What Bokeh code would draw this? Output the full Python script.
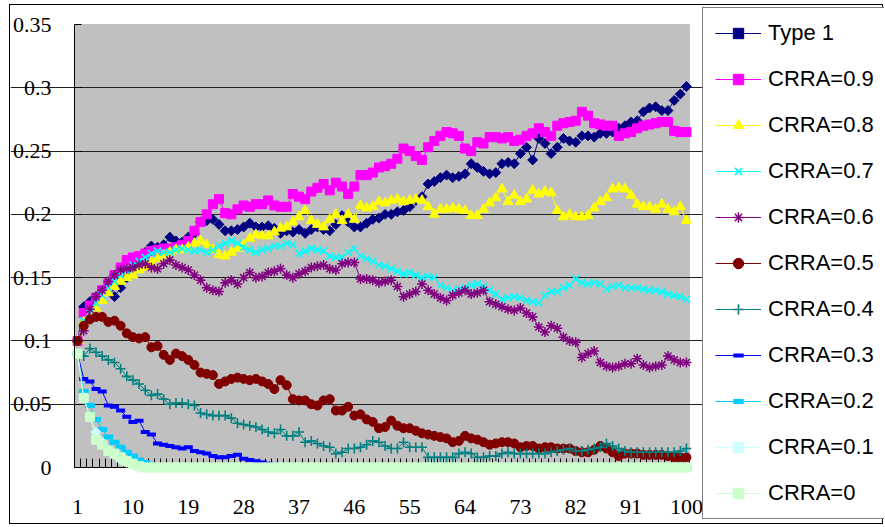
import numpy as np
from bokeh.plotting import figure
from bokeh.models import (Range1d, FixedTicker, NumeralTickFormatter, BoxAnnotation,
                          Legend, LegendItem, LinearAxis)
from bokeh.embed import file_html
from bokeh.resources import INLINE

periods = list(range(1, 101))
x_tick_labels = [1, 10, 19, 28, 37, 46, 55, 64, 73, 82, 91, 100]
y_ticks = [0, 0.05, 0.1, 0.15, 0.2, 0.25, 0.3, 0.35]
grid_ticks = [0.05, 0.1, 0.15, 0.2, 0.25, 0.3]

type1 = [0.100, 0.127, 0.131, 0.135, 0.138, 0.140, 0.135, 0.142, 0.150, 0.158,
         0.165, 0.170, 0.175, 0.174, 0.176, 0.182, 0.179, 0.178, 0.182, 0.185,
         0.194, 0.195, 0.196, 0.192, 0.187, 0.187, 0.188, 0.190, 0.193, 0.190,
         0.190, 0.191, 0.189, 0.185, 0.187, 0.186, 0.188, 0.185, 0.188, 0.190,
         0.188, 0.187, 0.192, 0.199, 0.194, 0.190, 0.190, 0.193, 0.196, 0.197,
         0.200, 0.200, 0.202, 0.203, 0.206, 0.211, 0.214, 0.224, 0.226, 0.229,
         0.231, 0.229, 0.230, 0.232, 0.240, 0.237, 0.234, 0.232, 0.233, 0.240,
         0.241, 0.240, 0.248, 0.253, 0.243, 0.260, 0.256, 0.248, 0.253, 0.260,
         0.258, 0.257, 0.262, 0.262, 0.261, 0.264, 0.264, 0.265, 0.268, 0.270,
         0.273, 0.274, 0.281, 0.284, 0.285, 0.282, 0.282, 0.290, 0.295, 0.301]

crra09 = [0.100, 0.122, 0.128, 0.134, 0.140, 0.145, 0.152, 0.158, 0.164, 0.166,
          0.167, 0.169, 0.171, 0.172, 0.173, 0.173, 0.174, 0.176, 0.179, 0.187,
          0.194, 0.200, 0.208, 0.212, 0.201, 0.200, 0.204, 0.207, 0.206, 0.208,
          0.208, 0.211, 0.207, 0.206, 0.206, 0.216, 0.214, 0.212, 0.218, 0.221,
          0.224, 0.219, 0.225, 0.222, 0.216, 0.222, 0.231, 0.231, 0.233, 0.237,
          0.238, 0.240, 0.244, 0.252, 0.250, 0.246, 0.243, 0.253, 0.258, 0.262,
          0.265, 0.264, 0.262, 0.252, 0.250, 0.257, 0.256, 0.261, 0.261, 0.260,
          0.261, 0.258, 0.259, 0.262, 0.264, 0.268, 0.265, 0.262, 0.270, 0.272,
          0.273, 0.274, 0.281, 0.278, 0.272, 0.271, 0.270, 0.270, 0.262, 0.264,
          0.265, 0.268, 0.270, 0.271, 0.272, 0.273, 0.273, 0.266, 0.265, 0.265]

crra08 = [0.100, 0.115, 0.120, 0.126, 0.132, 0.138, 0.143, 0.147, 0.150, 0.152,
          0.156, 0.158, 0.162, 0.165, 0.168, 0.170, 0.172, 0.172, 0.174, 0.177,
          0.179, 0.176, 0.172, 0.168, 0.167, 0.170, 0.173, 0.176, 0.181, 0.184,
          0.183, 0.183, 0.186, 0.189, 0.190, 0.194, 0.198, 0.203, 0.195, 0.192,
          0.190, 0.196, 0.200, 0.195, 0.200, 0.196, 0.207, 0.205, 0.206, 0.210,
          0.209, 0.211, 0.212, 0.210, 0.211, 0.212, 0.211, 0.206, 0.200, 0.204,
          0.204, 0.205, 0.204, 0.203, 0.199, 0.199, 0.204, 0.209, 0.213, 0.220,
          0.210, 0.215, 0.210, 0.212, 0.219, 0.216, 0.218, 0.217, 0.203, 0.198,
          0.200, 0.198, 0.198, 0.199, 0.205, 0.210, 0.213, 0.220, 0.221, 0.220,
          0.215, 0.208, 0.206, 0.206, 0.204, 0.208, 0.204, 0.202, 0.206, 0.195]

crra07 = [0.100, 0.116, 0.122, 0.130, 0.136, 0.142, 0.147, 0.152, 0.156, 0.160,
          0.163, 0.166, 0.169, 0.171, 0.170, 0.170, 0.172, 0.173, 0.172, 0.171,
          0.172, 0.170, 0.172, 0.175, 0.177, 0.179, 0.177, 0.174, 0.172, 0.170,
          0.172, 0.173, 0.175, 0.175, 0.177, 0.176, 0.169, 0.171, 0.173, 0.172,
          0.171, 0.167, 0.166, 0.166, 0.170, 0.173, 0.167, 0.165, 0.163, 0.160,
          0.159, 0.157, 0.155, 0.153, 0.154, 0.152, 0.150, 0.151, 0.150, 0.144,
          0.142, 0.140, 0.141, 0.142, 0.144, 0.145, 0.143, 0.140, 0.137, 0.133,
          0.134, 0.135, 0.134, 0.132, 0.131, 0.130, 0.136, 0.139, 0.139, 0.142,
          0.144, 0.149, 0.146, 0.145, 0.146, 0.145, 0.141, 0.143, 0.144, 0.142,
          0.142, 0.142, 0.141, 0.140, 0.140, 0.139, 0.137, 0.136, 0.135, 0.133]

crra06 = [0.100, 0.108, 0.125, 0.135, 0.140, 0.147, 0.152, 0.156, 0.157, 0.158,
          0.160, 0.161, 0.158, 0.157, 0.161, 0.164, 0.160, 0.158, 0.156, 0.152,
          0.148, 0.142, 0.140, 0.139, 0.146, 0.148, 0.145, 0.150, 0.154, 0.150,
          0.151, 0.154, 0.155, 0.157, 0.152, 0.150, 0.153, 0.155, 0.158, 0.159,
          0.160, 0.157, 0.156, 0.161, 0.162, 0.162, 0.149, 0.149, 0.148, 0.146,
          0.147, 0.148, 0.143, 0.135, 0.137, 0.139, 0.145, 0.140, 0.137, 0.134,
          0.132, 0.136, 0.138, 0.140, 0.137, 0.138, 0.140, 0.131, 0.129, 0.127,
          0.125, 0.124, 0.126, 0.122, 0.119, 0.111, 0.107, 0.112, 0.110, 0.103,
          0.100, 0.099, 0.087, 0.090, 0.092, 0.083, 0.080, 0.079, 0.080, 0.082,
          0.082, 0.086, 0.081, 0.079, 0.080, 0.081, 0.088, 0.085, 0.083, 0.083]

crra05 = [0.100, 0.112, 0.117, 0.119, 0.119, 0.115, 0.116, 0.112, 0.106, 0.103,
          0.102, 0.103, 0.095, 0.096, 0.089, 0.085, 0.090, 0.088, 0.085, 0.081,
          0.075, 0.074, 0.073, 0.066, 0.068, 0.070, 0.071, 0.070, 0.069, 0.070,
          0.068, 0.066, 0.062, 0.069, 0.065, 0.054, 0.053, 0.053, 0.050, 0.049,
          0.053, 0.054, 0.045, 0.045, 0.048, 0.041, 0.042, 0.038, 0.036, 0.031,
          0.032, 0.037, 0.033, 0.031, 0.031, 0.029, 0.027, 0.026, 0.025, 0.024,
          0.023, 0.020, 0.021, 0.025, 0.023, 0.022, 0.020, 0.018, 0.019, 0.020,
          0.020, 0.019, 0.016, 0.017, 0.017, 0.015, 0.016, 0.016, 0.015, 0.015,
          0.015, 0.013, 0.012, 0.012, 0.014, 0.017, 0.015, 0.012, 0.009, 0.011,
          0.011, 0.011, 0.010, 0.010, 0.010, 0.010, 0.009, 0.008, 0.008, 0.008]

crra04 = [0.090, 0.088, 0.094, 0.091, 0.088, 0.085, 0.083, 0.078, 0.072, 0.069,
          0.066, 0.061, 0.057, 0.058, 0.054, 0.050, 0.051, 0.051, 0.050, 0.049,
          0.043, 0.042, 0.041, 0.041, 0.041, 0.039, 0.035, 0.034, 0.033, 0.032,
          0.030, 0.028, 0.027, 0.030, 0.025, 0.025, 0.028, 0.020, 0.021, 0.019,
          0.017, 0.016, 0.011, 0.012, 0.015, 0.015, 0.016, 0.018, 0.021, 0.020,
          0.017, 0.015, 0.015, 0.020, 0.016, 0.016, 0.016, 0.008, 0.008, 0.008,
          0.008, 0.008, 0.011, 0.012, 0.011, 0.008, 0.008, 0.009, 0.009, 0.011,
          0.012, 0.011, 0.011, 0.011, 0.011, 0.011, 0.011, 0.012, 0.013, 0.014,
          0.015, 0.013, 0.013, 0.014, 0.015, 0.016, 0.019, 0.017, 0.015, 0.013,
          0.012, 0.012, 0.012, 0.012, 0.012, 0.012, 0.012, 0.012, 0.013, 0.015]

crra03 = [0.090, 0.070, 0.068, 0.062, 0.060, 0.049, 0.048, 0.045, 0.040, 0.036,
          0.037, 0.028, 0.026, 0.019, 0.018, 0.017, 0.016, 0.015, 0.016, 0.013,
          0.012, 0.011, 0.009, 0.008, 0.008, 0.009, 0.010, 0.007, 0.006, 0.005,
          0.004, 0.003, 0.002, 0.002, 0.001, 0.001, 0, 0, 0, 0,
          0, 0, 0, 0, 0, 0, 0, 0, 0, 0,
          0, 0, 0, 0, 0, 0, 0, 0, 0, 0,
          0, 0, 0, 0, 0, 0, 0, 0, 0, 0,
          0, 0, 0, 0, 0, 0, 0, 0, 0, 0,
          0, 0, 0, 0, 0, 0, 0, 0, 0, 0,
          0, 0, 0, 0, 0, 0, 0, 0, 0, 0]

crra02 = [0.090, 0.060, 0.049, 0.038, 0.030, 0.024, 0.020, 0.016, 0.012, 0.009,
          0.006, 0.004, 0.002, 0.001, 0, 0, 0, 0, 0, 0,
          0, 0, 0, 0, 0, 0, 0, 0, 0, 0,
          0, 0, 0, 0, 0, 0, 0, 0, 0, 0,
          0, 0, 0, 0, 0, 0, 0, 0, 0, 0,
          0, 0, 0, 0, 0, 0, 0, 0, 0, 0,
          0, 0, 0, 0, 0, 0, 0, 0, 0, 0,
          0, 0, 0, 0, 0, 0, 0, 0, 0, 0,
          0, 0, 0, 0, 0, 0, 0, 0, 0, 0,
          0, 0, 0, 0, 0, 0, 0, 0, 0, 0]

crra01 = [0.090, 0.055, 0.040, 0.028, 0.020, 0.014, 0.010, 0.006, 0.004, 0.002,
          0, 0, 0, 0, 0, 0, 0, 0, 0, 0,
          0, 0, 0, 0, 0, 0, 0, 0, 0, 0,
          0, 0, 0, 0, 0, 0, 0, 0, 0, 0,
          0, 0, 0, 0, 0, 0, 0, 0, 0, 0,
          0, 0, 0, 0, 0, 0, 0, 0, 0, 0,
          0, 0, 0, 0, 0, 0, 0, 0, 0, 0,
          0, 0, 0, 0, 0, 0, 0, 0, 0, 0,
          0, 0, 0, 0, 0, 0, 0, 0, 0, 0,
          0, 0, 0, 0, 0, 0, 0, 0, 0, 0]

crra00 = [0.090, 0.055, 0.040, 0.022, 0.018, 0.013, 0.011, 0.008, 0.005, 0.003,
          0.001, 0, 0, 0, 0, 0, 0, 0, 0, 0,
          0, 0, 0, 0, 0, 0, 0, 0, 0, 0,
          0, 0, 0, 0, 0, 0, 0, 0, 0, 0,
          0, 0, 0, 0, 0, 0, 0, 0, 0, 0,
          0, 0, 0, 0, 0, 0, 0, 0, 0, 0,
          0, 0, 0, 0, 0, 0, 0, 0, 0, 0,
          0, 0, 0, 0, 0, 0, 0, 0, 0, 0,
          0, 0, 0, 0, 0, 0, 0, 0, 0, 0,
          0, 0, 0, 0, 0, 0, 0, 0, 0, 0]

series_labels = ["Type 1", "CRRA=0.9", "CRRA=0.8", "CRRA=0.7", "CRRA=0.6", "CRRA=0.5",
                 "CRRA=0.4", "CRRA=0.3", "CRRA=0.2", "CRRA=0.1", "CRRA=0"]
series_values = [type1, crra09, crra08, crra07, crra06, crra05,
                 crra04, crra03, crra02, crra01, crra00]

Q = np.pi / 4
styles = [
    ("#000080", dict(marker="square", size=7, angle=Q, fill=True, lw=1)),
    ("#FF00FF", dict(marker="square", size=9, angle=0, fill=True, lw=1)),
    ("#FFFF00", dict(marker="triangle", size=10, angle=0, fill=True, lw=1)),
    ("#00FFFF", dict(marker="x", size=10, angle=0, fill=False, lw=1.6)),
    ("#800080", dict(marker="asterisk", size=10, angle=0, fill=False, lw=1.5)),
    ("#800000", dict(marker="circle", size=9, angle=0, fill=True, lw=1)),
    ("#008080", dict(marker="cross", size=10, angle=0, fill=False, lw=1.6)),
    ("#0000FF", dict(marker="dash", size=9, angle=0, fill=False, lw=4)),
    ("#00CCFF", dict(marker="dash", size=10, angle=0, fill=False, lw=5)),
    ("#CCFFFF", dict(marker="square", size=7, angle=Q, fill=True, lw=1)),
    ("#CCFFCC", dict(marker="square", size=9, angle=0, fill=True, lw=1)),
]

# Canvas 874x520 sits at page (10, 5) inside a 1px border.  The frame fills the
# whole canvas; the plot area (periods 0.5..100.5, values 0..0.35) spans page
# x 74..689 and y 467..24, i.e. 6.15 px per period and 443 px per 0.35.
CW, CH = 874, 520
PX_PER_X = 615 / 100.0
PX_PER_Y = 443 / 0.35
AREA_LEFT, AREA_TOP, AREA_ZERO = 64, 19, 462  # canvas pixels
x_start = 0.5 - AREA_LEFT / PX_PER_X
x_end = x_start + CW / PX_PER_X
y_end = 0.35 + AREA_TOP / PX_PER_Y
y_start = -(CH - AREA_ZERO) / PX_PER_Y

p = figure(width=CW, height=CH, output_backend="svg", toolbar_location=None,
           x_range=Range1d(x_start, x_end), y_range=Range1d(y_start, y_end),
           min_border=0, margin=(4, 0, 0, 9), styles={"border": "1px solid black"})
p.background_fill_color = "white"
p.border_fill_color = "white"
p.outline_line_color = None
p.xgrid.visible = False
p.ygrid.ticker = FixedTicker(ticks=grid_ticks)
p.ygrid.bounds = (0.5, 100.5)
p.ygrid.grid_line_color = "#202020"
p.ygrid.grid_line_width = 1

plot_bg = BoxAnnotation(left=0.5, right=100.5, bottom=0, top=0.35,
                        fill_color="#C0C0C0", fill_alpha=1.0,
                        line_color="#808080", line_width=1, level="image")
p.add_layout(plot_bg)

# x labels axis, positioned at y = 0
xa = p.xaxis[0]
xa.fixed_location = 0
xa.ticker = FixedTicker(ticks=x_tick_labels)
xa.axis_line_color = None
xa.major_tick_in = 0
xa.major_tick_out = 0
xa.minor_tick_in = 0
xa.minor_tick_out = 0
xa.major_label_standoff = 32
xa.major_label_text_font = "Liberation Serif"
xa.major_label_text_font_size = "22px"
xa.major_label_text_color = "black"

# axis line + category tick marks at y = 0, drawn beneath the series
xt = LinearAxis(ticker=FixedTicker(ticks=[], minor_ticks=[k + 0.5 for k in range(0, 101)]),
                fixed_location=0, bounds=(0.5, 100.5), axis_line_color="black",
                major_tick_in=0, major_tick_out=0,
                minor_tick_in=9, minor_tick_out=0, minor_tick_line_color="black",
                major_label_text_font_size="0px", major_label_standoff=0,
                level="underlay")
p.add_layout(xt, "below")

ya = p.yaxis[0]
ya.fixed_location = 0.5
ya.ticker = FixedTicker(ticks=y_ticks)
ya.formatter = NumeralTickFormatter(format="0.[00]")
ya.bounds = (0, 0.35)
ya.axis_line_color = "black"
ya.major_tick_in = 7
ya.major_tick_out = 0
ya.minor_tick_in = 0
ya.minor_tick_out = 0
ya.major_label_standoff = 23
ya.major_label_text_font = "Liberation Serif"
ya.major_label_text_font_size = "22px"
ya.major_label_text_color = "black"

items = []
for label, vals, (color, m) in zip(series_labels, series_values, styles):
    r_line = p.line(periods, vals, line_color=color, line_width=1)
    r_mark = p.scatter(periods, vals, marker=m["marker"], size=m["size"], angle=m["angle"],
                       line_color=color, line_width=m["lw"],
                       fill_color=color if m["fill"] else None)
    items.append(LegendItem(label=label, renderers=[r_line, r_mark]))

# legend box: page x 702..884, y 9..519  -> offsets from frame bottom-left (page 10, 525)
legend = Legend(items=items, location=(692, 6),
                label_text_font="Liberation Sans", label_text_font_size="22px",
                label_text_color="black",
                glyph_width=46, glyph_height=26, label_height=26,
                spacing=20, padding=12, label_standoff=7, margin=0,
                border_line_color="black", border_line_width=1,
                background_fill_color="white", background_fill_alpha=1.0)
p.add_layout(legend)

open("out.html", "w").write(file_html(p, INLINE))
